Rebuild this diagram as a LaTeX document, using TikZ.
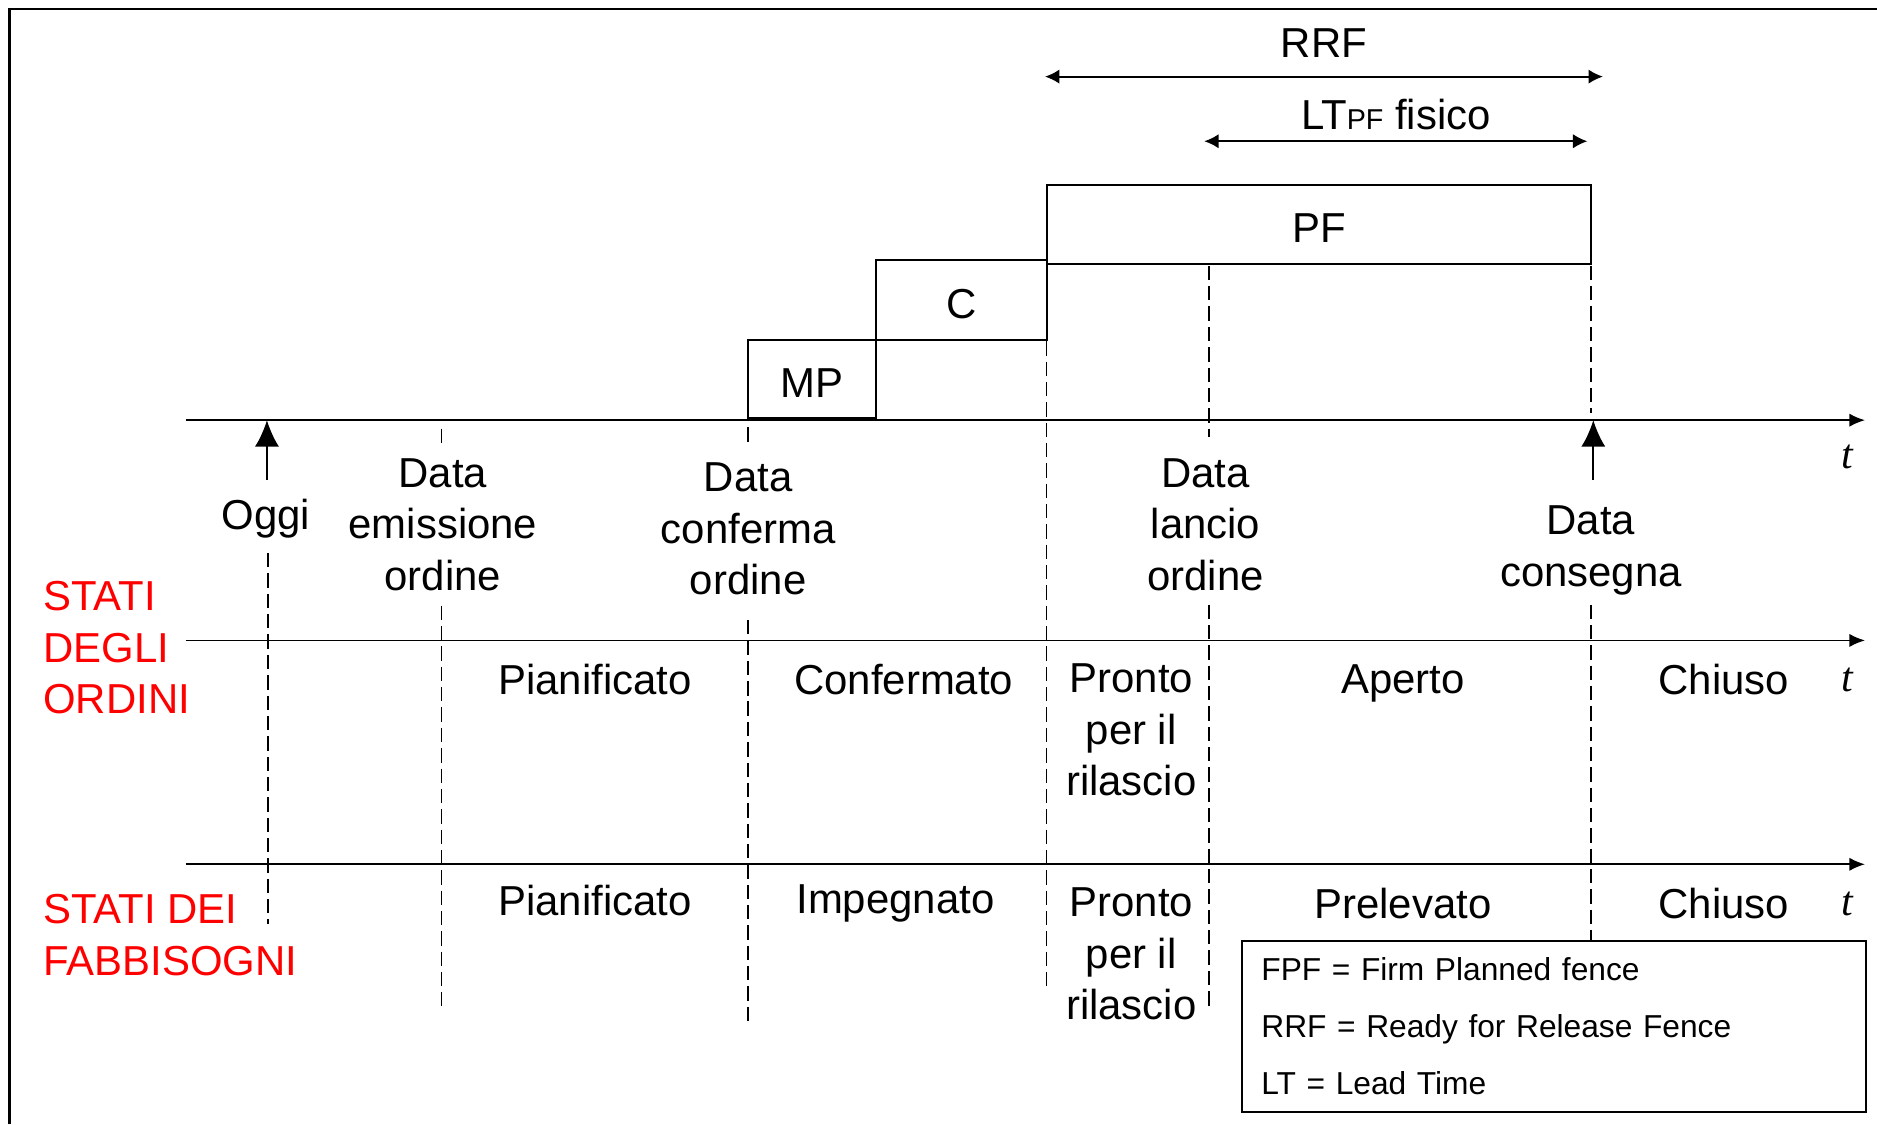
\documentclass[tikz,border=0pt]{standalone}
\usepackage{fontspec}
\setmainfont{Liberation Sans}
\newfontfamily\tserif{Liberation Serif}
\usetikzlibrary{arrows.meta}
\tikzset{
	testo/.style={font=\fontsize{35}{43}\selectfont, align=center, inner sep=0pt},
	rosso/.style={testo, text=red, align=left, anchor=west},
	scatola/.style={draw, line width=1.5pt, testo, anchor=south west, text height=31pt, text depth=0pt},
	tratt/.style={line width=1.2pt, dash pattern=on 12pt off 5pt},
	asse/.style={line width=1.5pt, -{Latex[length=13pt,width=11pt]}},
	evento/.style={line width=1.5pt, -{Latex[length=22pt,width=20pt]}},
	freccia/.style={line width=1.5pt, {Latex[length=12pt,width=12pt]}-{Latex[length=12pt,width=12pt]}},
	tempo/.style={font=\fontsize{35}{43}\selectfont\tserif\itshape, inner sep=0pt},
}
\begin{document}
\begin{tikzpicture}[x=1pt, y=-1pt]
			\useasboundingbox (0,0) rectangle (1568,939);
			\draw[line width=2pt] (8,939) -- (8,7.5) -- (1568,7.5);
			\foreach \x/\a/\b in {224/462/772, 369/358/372, 369/506/840, 625/357/372, 625/518/855, 874/285/828, 1010/222/365, 1010/505/840, 1329/222/345, 1329/505/785}
				\draw[tratt] (\x,\a) -- (\x,\b);
			\draw (624,350) node[scatola, minimum width=107pt, minimum height=65pt] (MP) {MP};
			\draw (731,285) node[scatola, minimum width=143pt, minimum height=67pt] (C) {C};
			\draw (874,221) node[scatola, minimum width=454pt, minimum height=66pt] (PF) {PF};
			\coordinate (R1) at (873,64);
			\coordinate (R2) at (1339,64);
			\draw[freccia] (R1) to node[testo, above=15pt] (RRF) {RRF} (R2);
			\coordinate (L1) at (1006,118);
			\coordinate (L2) at (1326,118);
			\draw[freccia] (L1) to node[testo, above=9pt] (LTPF) {LT{\fontsize{24}{24}\selectfont PF} fisico} (L2);
			\coordinate (A1) at (155,351);
			\coordinate (B1) at (1558,351);
			\coordinate (A2) at (155,535);
			\coordinate (B2) at (1558,535);
			\coordinate (A3) at (155,722);
			\coordinate (B3) at (1558,722);
			\draw[asse] (A1) -- (B1);
			\draw[asse] (A2) -- (B2);
			\draw[asse] (A3) -- (B3);
			\coordinate (O1) at (223,401);
			\coordinate (O2) at (223,351);
			\draw[evento] (O1) -- (O2);
			\coordinate (D1) at (1331,401);
			\coordinate (D2) at (1331,351);
			\draw[evento] (D1) -- (D2);
			\draw (222,433) node[testo] (oggi) {Oggi};
			\draw (370,438) node[testo] (emissione) {Data\\emissione\\ordine};
			\draw (625,442) node[testo] (conferma) {Data\\conferma\\ordine};
			\draw (1007,438) node[testo] (lancio) {Data\\lancio\\ordine};
			\draw (1329,460) node[testo] (consegna) {Data\\consegna};
			\draw (1543,382) node[tempo] (t1) {t};
			\draw (36,541) node[rosso] (ordini) {STATI\\DEGLI\\ORDINI};
			\draw (497,568) node[testo] (o1) {Pianificato};
			\draw (755,568) node[testo] (o2) {Confermato};
			\draw (945,610) node[testo] (o3) {Pronto\\per il\\rilascio};
			\draw (1172,571) node[testo] (o4) {Aperto};
			\draw (1440,568) node[testo] (o5) {Chiuso};
			\draw (1543,568) node[tempo] (t2) {t};
			\draw (36,781) node[rosso] (fabbisogni) {STATI DEI\\FABBISOGNI};
			\draw (497,752) node[testo] (f1) {Pianificato};
			\draw (748,755) node[testo] (f2) {Impegnato};
			\draw (945,797) node[testo] (f3) {Pronto\\per il\\rilascio};
			\draw (1172,755) node[testo] (f4) {Prelevato};
			\draw (1440,755) node[testo] (f5) {Chiuso};
			\draw (1543,755) node[tempo] (t3) {t};
			\draw (1037,785) node[draw, line width=1.5pt, anchor=north west, minimum width=521pt, minimum height=143pt, text width=489pt, inner xsep=16pt, align=left, font=\fontsize{26.5}{48}\selectfont] (legenda) {FPF = Firm Planned fence\\RRF = Ready for Release Fence\\LT = Lead Time};
		\end{tikzpicture}
\end{document}
